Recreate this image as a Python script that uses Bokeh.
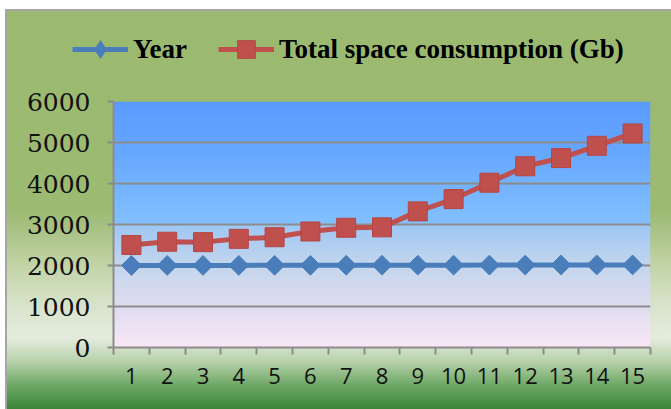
import numpy as np
from bokeh.plotting import figure
from bokeh.layouts import column
from bokeh.models import (ColumnDataSource, Legend, LegendItem, FixedTicker,
                          Range1d)
from bokeh.embed import file_html
from bokeh.resources import INLINE

# ---- data ----
periods = list(range(1, 16))
year = [2000, 2001, 2002, 2003, 2004, 2005, 2006, 2007,
        2008, 2009, 2010, 2011, 2012, 2013, 2014]
total_space_gb = [2500, 2580, 2570, 2650, 2690, 2830, 2920, 2930,
                  3320, 3620, 4020, 4420, 4620, 4920, 5220]
y_ticks = [0, 1000, 2000, 3000, 4000, 5000, 6000]

BLUE = "#4A7EBB"
RED = "#C0504D"
GRID = "#8C8C8C"

src = ColumnDataSource(dict(x=periods, year=year, space=total_space_gb))

# ---- main chart ----
p = figure(width=671, height=329, output_backend="svg", toolbar_location=None,
           x_range=Range1d(0.5, 15.5), y_range=Range1d(0, 6000),
           min_border_left=113, min_border_right=21,
           min_border_top=21, min_border_bottom=62)
p.border_fill_color = None
p.background_fill_color = None
p.outline_line_color = None
p.frame_align = False

# plot-area background: blue at the top fading to pale pink at zero
stops_v = np.array([0, 1000, 2000, 2950, 3050, 3600, 4800, 6000], dtype=float)
stops_c = np.array([
    (249, 232, 248), (224, 221, 240), (196, 214, 237), (160, 200, 245),
    (130, 192, 255), (122, 185, 255), (102, 167, 255), (91, 155, 255)],
    dtype=float)
n_rows = 300
vals = np.linspace(0, 6000, n_rows)
img = np.zeros((n_rows, 1), dtype=np.uint32)
view = img.view(dtype=np.uint8).reshape((n_rows, 1, 4))
for ch in range(3):
    view[:, 0, ch] = np.interp(vals, stops_v, stops_c[:, ch]).astype(np.uint8)
view[:, 0, 3] = 255
p.image_rgba(image=[img], x=0.5, y=0, dw=15, dh=6000, level="image")

# series
p.line("x", "year", source=src, line_color=BLUE, line_width=5)
p.scatter("x", "year", source=src, marker="square", angle=np.pi / 4,
          size=14, fill_color=BLUE, line_color=BLUE)
p.line("x", "space", source=src, line_color=RED, line_width=5)
p.scatter("x", "space", source=src, marker="square", size=19,
          fill_color=RED, line_color="#B54541", line_width=1)

# grid
p.xgrid.grid_line_color = None
p.ygrid.ticker = FixedTicker(ticks=y_ticks)
p.ygrid.grid_line_color = GRID
p.ygrid.grid_line_width = 2

# y axis
ya = p.yaxis[0]
ya.ticker = FixedTicker(ticks=y_ticks)
ya.axis_line_color = GRID
ya.axis_line_width = 2
ya.major_tick_line_color = GRID
ya.major_tick_line_width = 2
ya.major_tick_out = 6
ya.major_tick_in = 0
ya.minor_tick_line_color = None
ya.major_label_standoff = 17
ya.major_label_text_font = "DejaVu Serif"
ya.major_label_text_font_size = "25px"
ya.major_label_text_color = "#111111"

# x axis: labels at the categories, tick marks between them
xa = p.xaxis[0]
xa.ticker = FixedTicker(ticks=periods, minor_ticks=[i + 0.5 for i in range(0, 16)])
xa.axis_line_color = GRID
xa.axis_line_width = 2
xa.major_tick_line_color = None
xa.major_tick_out = 7
xa.major_tick_in = 0
xa.minor_tick_line_color = GRID
xa.minor_tick_line_width = 2
xa.minor_tick_out = 7
xa.minor_tick_in = 0
xa.major_label_standoff = 13
xa.major_label_text_font = "Open Sans"
xa.major_label_text_font_size = "22px"
xa.major_label_text_color = "#111111"

# ---- legend strip above the chart ----
key = figure(width=671, height=80, output_backend="svg", toolbar_location=None,
             x_axis_type=None, y_axis_type=None, min_border=0,
             x_range=Range1d(0, 1), y_range=Range1d(0, 1))
key.border_fill_color = None
key.background_fill_color = None
key.outline_line_color = None
key.grid.visible = False
key.frame_align = False

# legend-only renderers: a single undefined point, so nothing lands in the strip
key_src = ColumnDataSource(dict(x=[np.nan], y=[np.nan]))
k_year_line = key.line("x", "y", source=key_src, line_color=BLUE, line_width=5)
k_year_mark = key.scatter("x", "y", source=key_src, marker="diamond", size=18,
                          fill_color=BLUE, line_color=BLUE)
k_space_line = key.line("x", "y", source=key_src, line_color=RED, line_width=5)
k_space_mark = key.scatter("x", "y", source=key_src, marker="square", size=18,
                           fill_color=RED, line_color="#B54541")

legend = Legend(
    items=[LegendItem(label="Year", renderers=[k_year_line, k_year_mark]),
           LegendItem(label="Total space consumption (Gb)",
                      renderers=[k_space_line, k_space_mark])],
    location=(72, 9), orientation="horizontal",
    padding=0, margin=0, spacing=31, label_standoff=5,
    glyph_width=56, glyph_height=44,
    border_line_color=None, background_fill_alpha=0,
    label_text_font="Liberation Serif", label_text_font_style="bold",
    label_text_font_size="27px", label_text_color="#000000",
)
key.add_layout(legend, "center")

layout = column(key, p, spacing=0)
# chart-area background: olive to pale to deep green, with a thin grey frame
layout.styles = {
    "background": (
        "linear-gradient(#A6A6A6,#A6A6A6) 5px 9px / 666px 2px no-repeat, "
        "linear-gradient(#A6A6A6,#A6A6A6) 5px 9px / 2px 400px no-repeat, "
        "linear-gradient(to bottom, #9BBA70 0%, #9CBA71 50%, #A9C285 55%, "
        "#C0D2A3 63%, #D6E2C8 73%, #E5ECDE 82%, #B8D2AC 88%, #6EA865 94%, "
        "#3A8537 100%) 7px 11px / 664px 398px no-repeat, #FFFFFF"
    )
}

open("out.html", "w").write(file_html(layout, INLINE))
